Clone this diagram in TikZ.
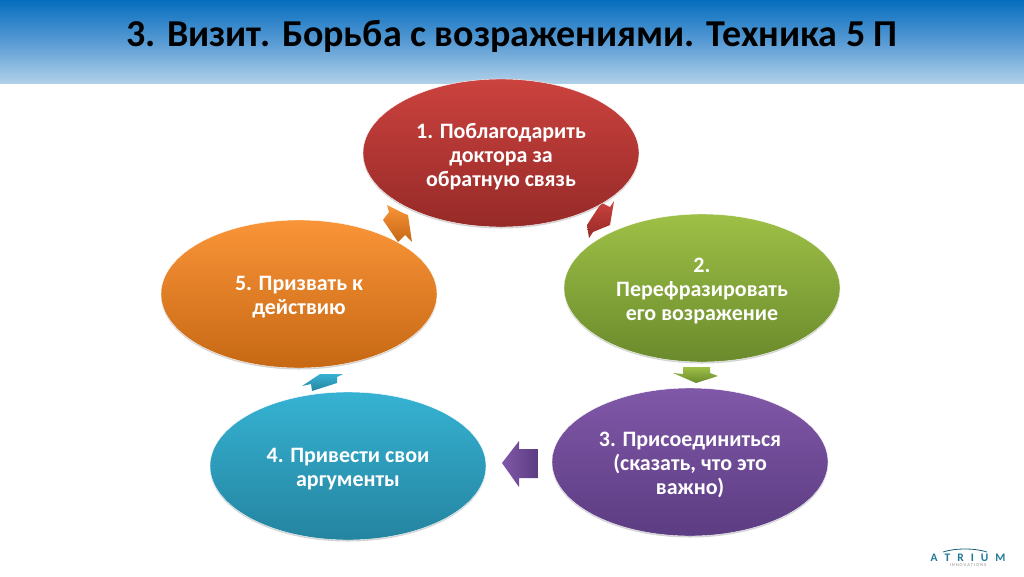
\documentclass[tikz,border=0pt]{standalone}
\usepackage{fontspec}
\setmainfont{Carlito}
\usepackage{xcolor}
\usepackage{tikz}
\usetikzlibrary{shapes.geometric,shadows}

\definecolor{headtop}{RGB}{6,110,190}
\definecolor{headmid}{RGB}{88,155,212}
\definecolor{headlow}{RGB}{176,208,232}
\definecolor{c1top}{RGB}{203,66,62}
\definecolor{c1low}{RGB}{150,42,40}
\definecolor{c2top}{RGB}{158,192,70}
\definecolor{c2low}{RGB}{106,138,44}
\definecolor{c3top}{RGB}{128,88,168}
\definecolor{c3low}{RGB}{92,60,130}
\definecolor{c4top}{RGB}{54,178,210}
\definecolor{c4low}{RGB}{36,132,160}
\definecolor{c5top}{RGB}{250,148,56}
\definecolor{c5low}{RGB}{198,104,20}
\definecolor{logoblue}{RGB}{30,120,150}

\tikzset{
	petal/.style={ellipse,minimum width=276pt,minimum height=148pt,inner sep=0pt,text width=190pt,align=flush center,
		text=white,font=\fontsize{22}{24}\selectfont\bfseries,
		execute at end node={\\[-27.5pt]\mbox{}},
		draw=white,line width=0.4pt,drop shadow={shadow xshift=0pt,shadow yshift=-1.5pt,opacity=.35}},
	blockarrow/.style={draw=none}
}

\begin{document}
\begin{tikzpicture}[x=1pt,y=-1pt]
	\useasboundingbox (0,0) rectangle (1024,576);
	% header band
	\path[top color=headtop,bottom color=headmid] (0,0) rectangle (1024,42);
	\path[top color=headmid,bottom color=headlow] (0,42) rectangle (1024,83);
	\node (title) at (512,36) {\fontsize{38}{44}\selectfont\bfseries\color{black}3. Визит. Борьба с возражениями. Техника 5 П};

	% arrows
	\path[blockarrow,top color=c1top,bottom color=c1low] (598,208) -- (602,203) -- (610,207) -- (614,201) -- (610,225) -- (593,232) -- (589,238) -- (587,225) -- cycle;
	\path[blockarrow,top color=c2top,bottom color=c2low] (683,367) -- (710,367) -- (710,373) -- (718,376) -- (696,383) -- (673,373) -- (683,374) -- cycle;
	\path[blockarrow,left color=c3top,right color=c3low] (538,449) -- (519,449) -- (519,441) -- (502,463) -- (519,487) -- (519,478) -- (538,478) -- cycle;
	\path[blockarrow,top color=c4top,bottom color=c4low] (302,386) -- (320,374) -- (343,374) -- (337,377) -- (337,383) -- (312,391) -- (311,384) -- cycle;
	\path[blockarrow,top color=c5top,bottom color=c5low] (387,205) -- (403,213) -- (408,215) -- (412,242) -- (405,235) -- (398,242) -- (383,220) -- (389,212) -- cycle;

	% ellipses
	\node[petal,top color=c1top,bottom color=c1low] (thanks) at (501,153) {1. Поблагодарить\\доктора за\\обратную связь};
	\node[petal,top color=c2top,bottom color=c2low] (rephrase) at (702,288) {2.\\Перефразировать\\его возражение};
	\node[petal,top color=c3top,bottom color=c3low] (join) at (690,462) {3. Присоединиться\\(сказать, что это\\важно)};
	\node[petal,top color=c4top,bottom color=c4low] (reasons) at (348,466) {4. Привести свои\\аргументы};
	\node[petal,top color=c5top,bottom color=c5low] (action) at (299,294) {5. Призвать к\\действию};

	% logo
	\node[inner sep=0pt] (logo) at (968,557.5) {\fontsize{11.5}{12}\selectfont\bfseries\color{logoblue}A\hspace{7pt}T\hspace{7pt}R\hspace{7pt}I\hspace{7pt}U\hspace{7pt}M};
	\node[inner sep=0pt] (logosub) at (968,565) {\fontsize{4.5}{5}\selectfont\color{black!45}I N N O V A T I O N S};
	\draw[logoblue!80!black,line width=0.8pt] (943,552) .. controls (955,548) and (975,548) .. (987,552);
\end{tikzpicture}
\end{document}
